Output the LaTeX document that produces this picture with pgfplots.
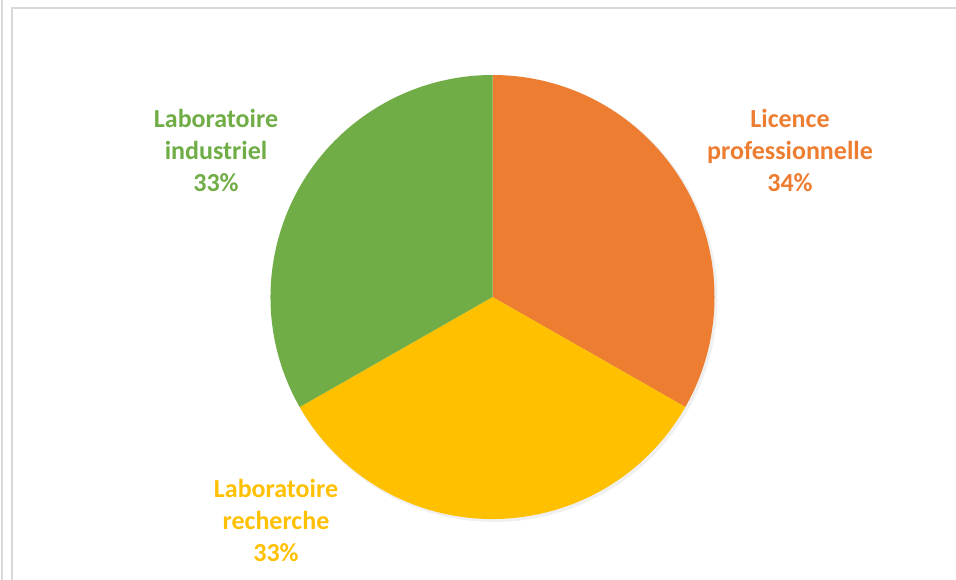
\documentclass[border=0pt]{standalone}
\usepackage{pgfplots}
\pgfplotsset{compat=1.18}
\usepackage{pgfplotstable}
\usepackage{fontspec}
\setmainfont{Carlito}
\definecolor{cOrange}{HTML}{ED7D31}
\definecolor{cYellow}{HTML}{FFC000}
\definecolor{cGreen}{HTML}{70AD47}
\definecolor{cFrame}{HTML}{D9D9D9}
\pgfplotstableread{
label value
Licence 33.25
Recherche 33.5
Industriel 33.25
}\piedata
\tikzset{lbl/.style={font=\fontsize{26}{32}\selectfont\bfseries, align=center}}
\begin{document}%
\begin{tikzpicture}
\pgfplotstablegetelem{0}{value}\of\piedata \pgfmathsetmacro\va{\pgfplotsretval}
\pgfplotstablegetelem{1}{value}\of\piedata \pgfmathsetmacro\vb{\pgfplotsretval}
\pgfplotstablegetelem{2}{value}\of\piedata \pgfmathsetmacro\vc{\pgfplotsretval}
\pgfmathsetmacro\tot{\va+\vb+\vc}
\pgfmathsetmacro\aA{90}
\pgfmathsetmacro\aB{\aA-360*\va/\tot}
\pgfmathsetmacro\aC{\aB-360*\vb/\tot}
\pgfmathsetmacro\aD{\aC-360*\vc/\tot}
\path[use as bounding box] (0,0) rectangle (956pt,580pt);
\begin{axis}[
  at={(0,0)}, anchor=south west,
  scale only axis, width=956pt, height=580pt,
  xmin=0, xmax=956, ymin=0, ymax=580,
  hide axis, clip=false,
]
% frame
\draw[cFrame, line width=1.2pt] (axis cs:2,0) -- (axis cs:2,580);
\draw[cFrame, line width=1.2pt] (axis cs:12,0) -- (axis cs:12,572) -- (axis cs:956,572);
% shadow
\fill[black, opacity=0.06] (axis cs:494.5,281) circle[radius=223pt];
% slices
\fill[cOrange] (axis cs:492.5,283) -- ++(\aA:222pt) arc[start angle=\aA, end angle=\aB, radius=222pt] -- cycle;
\fill[cYellow] (axis cs:492.5,283) -- ++(\aB:222pt) arc[start angle=\aB, end angle=\aC, radius=222pt] -- cycle;
\fill[cGreen] (axis cs:492.5,283) -- ++(\aC:222pt) arc[start angle=\aC, end angle=\aD, radius=222pt] -- cycle;
% labels
\node[lbl, text=cOrange] at (axis cs:790,430) {Licence\\professionnelle\\34\%};
\node[lbl, text=cGreen] at (axis cs:216,430) {Laboratoire\\industriel\\33\%};
\node[lbl, text=cYellow] at (axis cs:276,60) {Laboratoire\\recherche\\33\%};
\end{axis}
\end{tikzpicture}%
\end{document}
